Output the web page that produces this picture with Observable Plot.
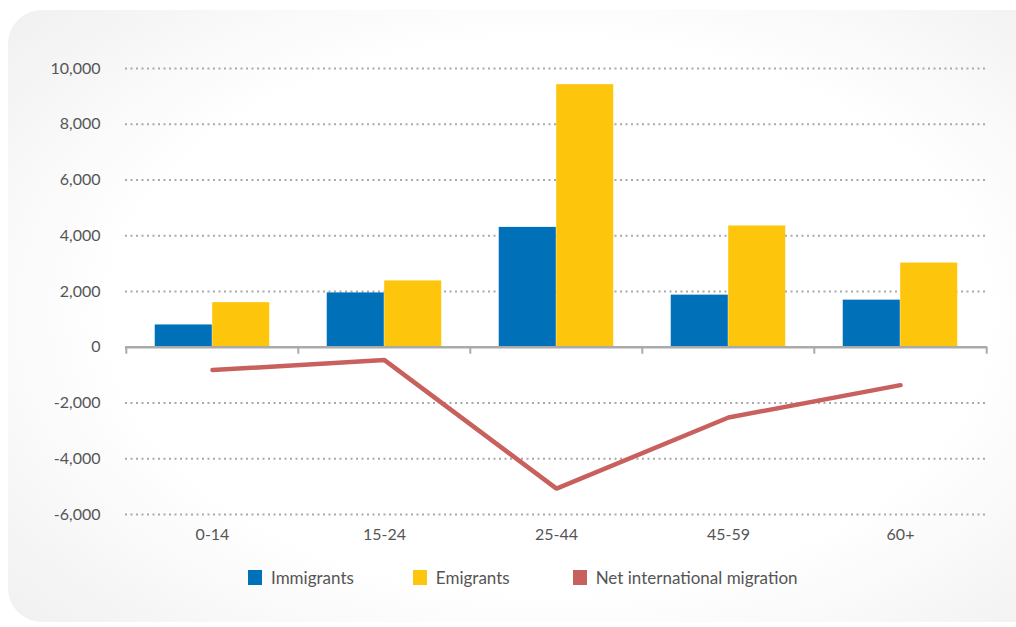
<!DOCTYPE html>
<html>
<head>
<meta charset="utf-8">
<script src="https://cdn.jsdelivr.net/npm/d3@7"></script>
<script src="https://cdn.jsdelivr.net/npm/@observablehq/plot@0.6"></script>
<style>
  html, body { margin: 0; padding: 0; width: 1016px; height: 627px; overflow: hidden; background: #fff; }
  #card { position: absolute; left: 8px; top: 10px; width: 1040px; height: 612px; border-radius: 34px;
    background: radial-gradient(ellipse 70% 75% at 52% 50%, #ffffff 60%, #f0f0f0 100%); }
  #chart { position: absolute; left: 0; top: 0; }
  #legend { position: absolute; left: 248px; top: 567px; display: flex; align-items: center;
    font-family: Lato, "Open Sans", sans-serif; font-size: 17px; color: #555; }
  .item { display: flex; align-items: center; }
  .sw { width: 14px; height: 15px; margin-right: 9px; }
</style>
</head>
<body>
<div id="card"></div>
<div id="chart"></div>
<div id="legend"></div>
<script>
const ages = ["0-14", "15-24", "25-44", "45-59", "60+"];
const immigrants = [800, 1950, 4300, 1870, 1690];
const emigrants = [1600, 2380, 9420, 4350, 3020];
const net = [-820, -460, -5070, -2520, -1360];
const yTicks = [-6000, -4000, -2000, 0, 2000, 4000, 6000, 8000, 10000];
const seriesNames = ["Immigrants", "Emigrants", "Net international migration"];
const colors = ["#0071b9", "#fdc60c", "#c8605e"];

const rows = ages.map((a, i) => ({age: a, imm: immigrants[i], emi: emigrants[i], net: net[i]}));

const W = 1016, mL = 125, mR = 29;
const bw = (W - mL - mR) / ages.length;
const font = "Lato, 'Open Sans', sans-serif";
const fmt = d => d3.format(",")(d).replace("\u2212", "-");

const plot = Plot.plot({
  width: W,
  height: 550,
  marginLeft: mL,
  marginRight: mR,
  marginTop: 68,
  marginBottom: 36,
  style: {background: "transparent", fontFamily: font, fontSize: "16px", color: "#555"},
  x: {domain: ages, padding: 0, label: null},
  y: {domain: [-6000, 10000], label: null},
  marks: [
    Plot.ruleY(yTicks.filter(d => d !== 0), {stroke: "#a9a9a9", strokeWidth: 2, strokeDasharray: "2,3.5"}),
    Plot.barY(rows, {x: "age", y: "imm", fill: colors[0], insetLeft: bw / 6, insetRight: bw / 2}),
    Plot.barY(rows, {x: "age", y: "emi", fill: colors[1], insetLeft: bw / 2, insetRight: bw / 6}),
    Plot.ruleY([0], {stroke: "#aaaaaa", strokeWidth: 2.5}),
    Plot.ruleX(ages, {x: d => d, dx: -bw / 2, y1: 0, y2: 0, insetBottom: -7, stroke: "#aaaaaa", strokeWidth: 2}),
    Plot.ruleX([ages[ages.length - 1]], {x: d => d, dx: bw / 2, y1: 0, y2: 0, insetBottom: -7, stroke: "#aaaaaa", strokeWidth: 2}),
    Plot.line(rows, {x: "age", y: "net", stroke: colors[2], strokeWidth: 4.5, strokeLinecap: "round", strokeLinejoin: "miter"}),
    Plot.axisY({ticks: yTicks, tickSize: 0, tickPadding: 25, tickFormat: fmt, fontSize: 16}),
    Plot.axisX({tickSize: 0, tickPadding: 14, fontSize: 16})
  ]
});
document.getElementById("chart").appendChild(plot);

const legend = document.getElementById("legend");
const gaps = [59, 63];
seriesNames.forEach((name, i) => {
  const it = document.createElement("div");
  it.className = "item";
  it.style.marginRight = i < gaps.length ? gaps[i] + "px" : "0";
  const sw = document.createElement("span");
  sw.className = "sw";
  sw.style.background = colors[i];
  const t = document.createElement("span");
  t.textContent = name;
  it.appendChild(sw);
  it.appendChild(t);
  legend.appendChild(it);
});
</script>
</body>
</html>
